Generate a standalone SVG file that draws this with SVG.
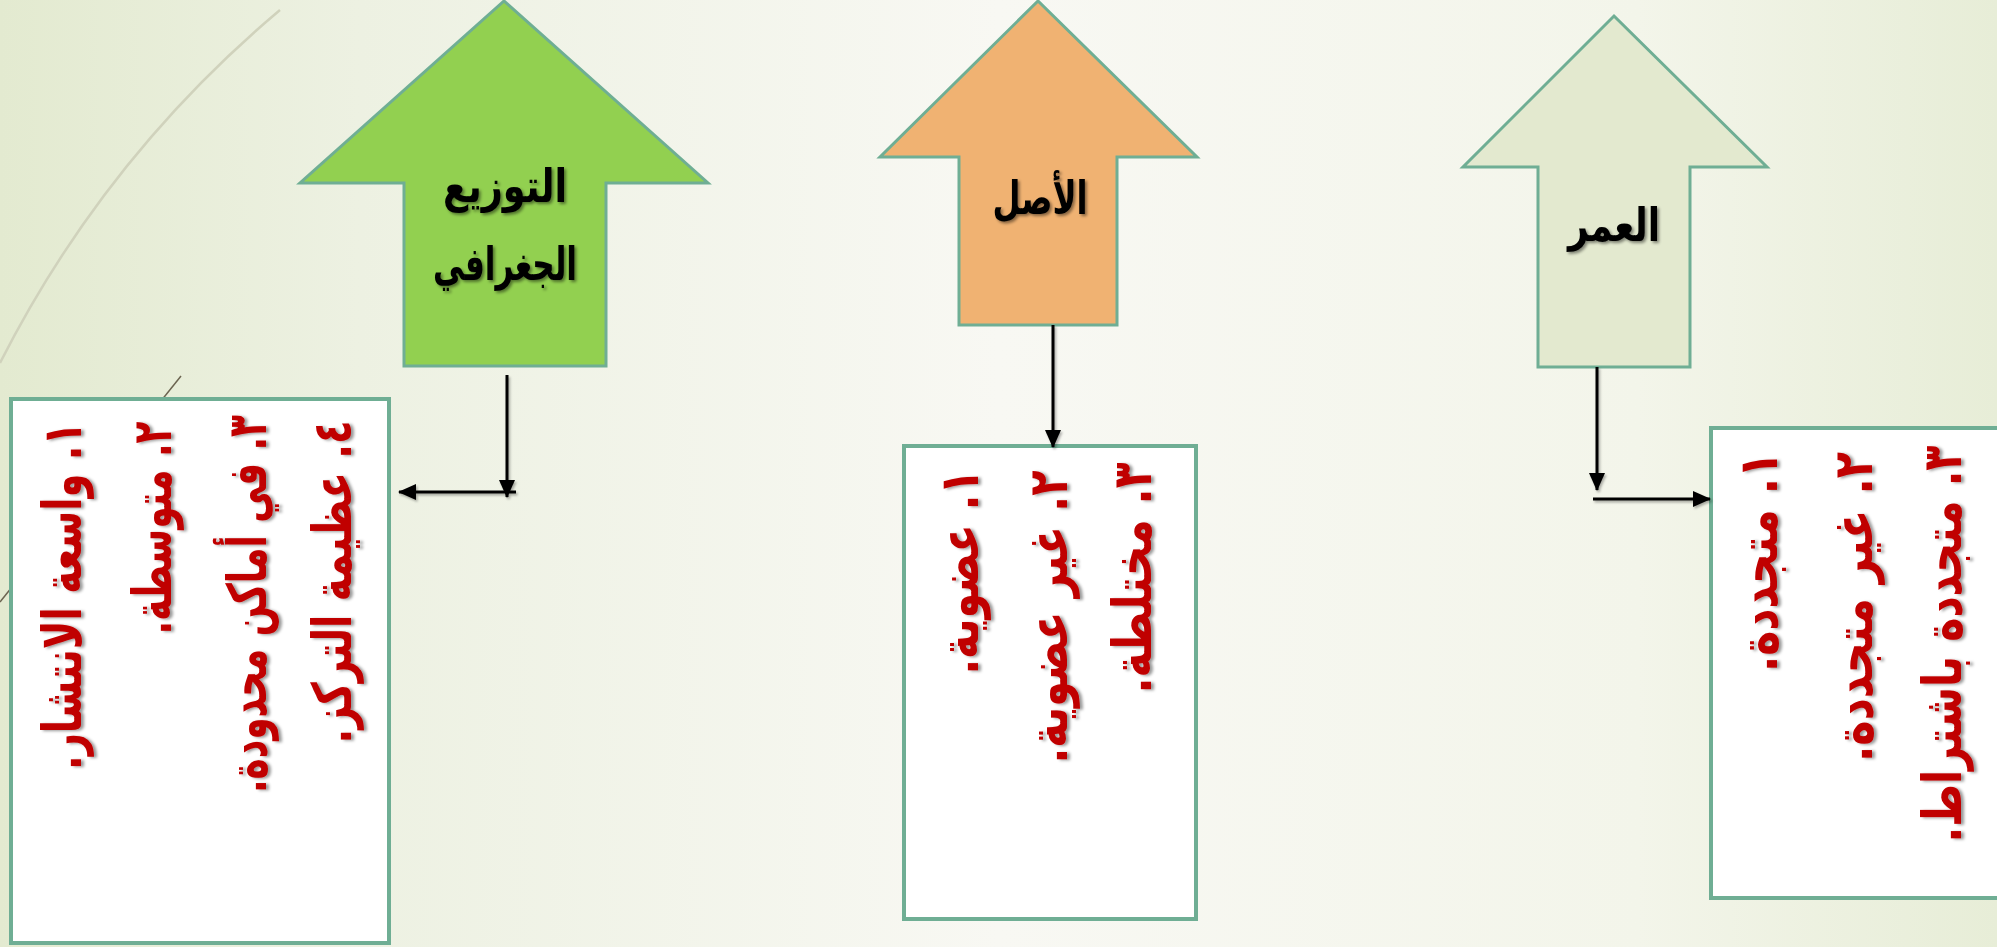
<svg xmlns="http://www.w3.org/2000/svg" width="1997" height="947" viewBox="0 0 1997 947">
<defs>
<linearGradient id="bg" x1="0" y1="0" x2="1" y2="0">
<stop offset="0" stop-color="#E3EAD0"/>
<stop offset="0.18" stop-color="#EDF1E2"/>
<stop offset="0.5" stop-color="#F8F8F3"/>
<stop offset="0.82" stop-color="#F3F5EA"/>
<stop offset="1" stop-color="#E7EDD7"/>
</linearGradient>
<filter id="tshadow" x="-20%" y="-20%" width="140%" height="140%"><feDropShadow dx="2" dy="2" stdDeviation="1.5" flood-color="#000" flood-opacity="0.45"/></filter>
<filter id="ishadow" x="-20%" y="-10%" width="140%" height="120%"><feDropShadow dx="3" dy="1" stdDeviation="1.5" flood-color="#000" flood-opacity="0.4"/></filter>
<filter id="lshadow" x="-20%" y="-20%" width="140%" height="140%"><feDropShadow dx="1.5" dy="2" stdDeviation="1.2" flood-color="#000" flood-opacity="0.3"/></filter>
<marker id="ah" viewBox="0 0 18 16" markerWidth="18" markerHeight="16" refX="17" refY="8" orient="auto" markerUnits="userSpaceOnUse"><path d="M0,0 L18,8 L0,16 z" fill="#000"/></marker>
</defs>
<style>
.arrow{stroke:#6FAE94;stroke-width:3;stroke-linejoin:miter}
.box{fill:#FFFFFF;stroke:#6FAE94;stroke-width:4}
.title{font-family:"DejaVu Sans",sans-serif;font-weight:bold;font-size:46px;fill:#000;text-anchor:middle;direction:rtl}
.item{font-family:"DejaVu Sans",sans-serif;font-weight:bold;font-size:54px;fill:#C00000;text-anchor:middle;direction:rtl;dominant-baseline:central}
.conn{stroke:#000;stroke-width:3;fill:none;marker-end:url(#ah)}
.deco1{fill:none;stroke:#D0D2BC;stroke-width:2.5}
.deco2{fill:none;stroke:#6B6450;stroke-width:1.5}
</style>
<rect x="0" y="0" width="1997" height="947" fill="url(#bg)"/>
<path class="deco1" d="M280,10 Q104,158 0,363"/>
<path class="deco2" d="M181,376 L0,602"/>

<g id="node-geo-arrow">
<polygon class="arrow" fill="#92D050" points="504,1 708,183 606,183 606,366 404,366 404,183 300,183"/>
<g filter="url(#tshadow)">
<text class="title" x="505" y="202" textLength="124" lengthAdjust="spacingAndGlyphs">التوزيع</text>
<text class="title" x="505" y="280" textLength="144" lengthAdjust="spacingAndGlyphs">الجغرافي</text>
</g>
</g>

<g id="node-origin-arrow">
<polygon class="arrow" fill="#F0B272" points="1038,1 1197,157 1117,157 1117,325 959,325 959,157 880,157"/>
<g filter="url(#tshadow)">
<text class="title" x="1040" y="214" textLength="95" lengthAdjust="spacingAndGlyphs">الأصل</text>
</g>
</g>

<g id="node-age-arrow">
<polygon class="arrow" fill="#E3E9CF" points="1614,16 1767,167 1690,167 1690,367 1538,367 1538,167 1463,167"/>
<g filter="url(#tshadow)">
<text class="title" x="1614" y="241" textLength="92" lengthAdjust="spacingAndGlyphs">العمر</text>
</g>
</g>

<g id="node-geo-box">
<rect class="box" x="11" y="399" width="378" height="544"/>
<g filter="url(#ishadow)">
<text class="item" transform="translate(62,596) rotate(-90)" textLength="348" lengthAdjust="spacingAndGlyphs">١. واسعة الانتشار.</text>
<text class="item" transform="translate(152,528) rotate(-90)" textLength="213" lengthAdjust="spacingAndGlyphs">٢. متوسطة.</text>
<text class="item" transform="translate(247,604) rotate(-90)" textLength="378" lengthAdjust="spacingAndGlyphs">٣. في أماكن محدودة.</text>
<text class="item" transform="translate(332,582) rotate(-90)" textLength="323" lengthAdjust="spacingAndGlyphs">٤. عظيمة التركز.</text>
</g>
</g>

<g id="node-origin-box">
<rect class="box" x="904" y="446" width="292" height="473"/>
<g filter="url(#ishadow)">
<text class="item" transform="translate(959,572) rotate(-90)" textLength="205" lengthAdjust="spacingAndGlyphs">١. عضوية.</text>
<text class="item" transform="translate(1048,617) rotate(-90)" textLength="293" lengthAdjust="spacingAndGlyphs">٢. غير عضوية.</text>
<text class="item" transform="translate(1132,578) rotate(-90)" textLength="231" lengthAdjust="spacingAndGlyphs">٣. مختلطة.</text>
</g>
</g>

<g id="node-age-box">
<rect class="box" x="1711" y="428" width="290" height="470"/>
<g filter="url(#ishadow)">
<text class="item" transform="translate(1758,562) rotate(-90)" textLength="220" lengthAdjust="spacingAndGlyphs">١. متجددة.</text>
<text class="item" transform="translate(1853,607) rotate(-90)" textLength="310" lengthAdjust="spacingAndGlyphs">٢. غير متجددة.</text>
<text class="item" transform="translate(1942,644) rotate(-90)" textLength="397" lengthAdjust="spacingAndGlyphs">٣. متجددة باشتراط.</text>
</g>
</g>

<g id="connectors" filter="url(#lshadow)">
<line class="conn" x1="507" y1="375" x2="507" y2="497"/>
<line class="conn" x1="516" y1="492" x2="399" y2="492"/>
<line class="conn" x1="1053" y1="325" x2="1053" y2="447"/>
<line class="conn" x1="1597" y1="367" x2="1597" y2="490"/>
<line class="conn" x1="1593" y1="499" x2="1710" y2="499"/>
</g>
</svg>
